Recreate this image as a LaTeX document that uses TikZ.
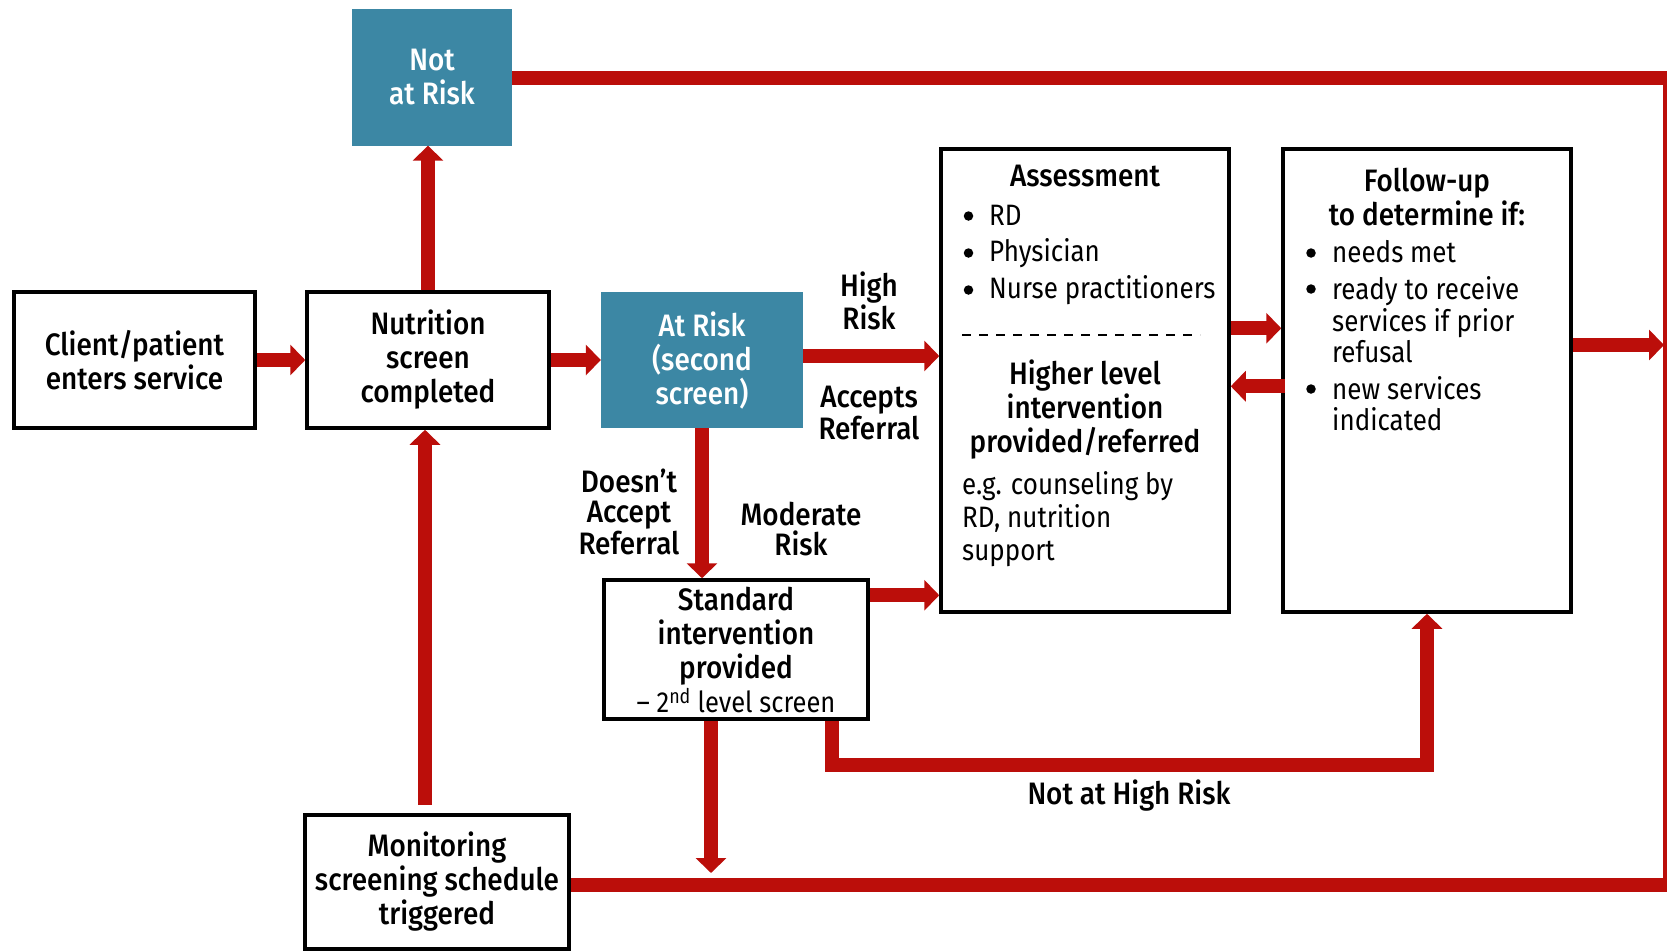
\documentclass[tikz,border=0pt]{standalone}
\usepackage{fontspec}
\setmainfont{Fira Sans}[FakeStretch=0.88, BoldFont={Fira Sans Medium}, BoldFeatures={FakeStretch=0.9}]
\usetikzlibrary{arrows.meta}
\definecolor{flowred}{RGB}{187,14,10}
\definecolor{riskteal}{RGB}{60,135,164}
\newcommand\headfont{\fontsize{31}{34}\selectfont\bfseries}
\newcommand\labelfont{\fontsize{31}{30}\selectfont\bfseries}
\newcommand\listfont{\fontsize{29.5}{31.5}\selectfont}
\begin{document}
\begin{tikzpicture}[x=1pt,y=-1pt,
  every node/.style={inner sep=0pt},
  box/.style={draw=black, line width=3.5pt, fill=white, align=center, font=\headfont},
  tealbox/.style={fill=riskteal, text=white, align=center, font=\headfont},
  lbl/.style={align=center, font=\labelfont},
  head/.style={align=center, font=\headfont},
  item/.style={align=left, font=\listfont},
  dot/.style={circle, fill=black, minimum size=9.5pt},
  flow/.style={draw=flowred, line width=14pt, line join=miter,
    -{Triangle[width=30pt,length=15pt]}},
  route/.style={draw=flowred, line width=14pt, line join=miter},
]
\useasboundingbox (0,0) rectangle (1667,951);
\clip (0,0) rectangle (1667,951);

% boxes of the screening flow
\node[tealbox, minimum width=160pt, minimum height=137pt] (notrisk) at (432,77) {Not\\at Risk};
\node[box, minimum width=241pt, minimum height=136pt] (client) at (134.5,360) {Client/patient\\enters service};
\node[box, minimum width=242pt, minimum height=136pt] (nutrition) at (428,360) {Nutrition\\screen\\completed};
\node[tealbox, minimum width=202pt, minimum height=136pt] (atrisk) at (702,360) {At Risk\\(second\\screen)};
\node[box, minimum width=264pt, minimum height=139pt] (standard) at (736,649.5)
  {Standard\\intervention\\provided\\{\mdseries\fontsize{29}{32}\selectfont – 2\textsuperscript{nd} level screen}};
\node[box, minimum width=264pt, minimum height=134pt] (monitor) at (437,882)
  {Monitoring\\screening schedule\\triggered};

% assessment box and its contents
\node[box, minimum width=288pt, minimum height=463pt] (assess) at (1085,380.5) {};
\node[head] (assessT) at (1085,176.5) {Assessment};
\node[dot] (aDot1) at (968.5,216) {};
\node[item, anchor=west] (aRD) at (989,215) {RD};
\node[dot] (aDot2) at (968.5,253) {};
\node[item, anchor=west] (aPhys) at (989,253) {Physician};
\node[dot] (aDot3) at (968.5,290) {};
\node[item, anchor=west] (aNurse) at (989,290) {Nurse practitioners};
\coordinate (dashL) at (962,335);
\coordinate (dashR) at (1200,335);
\draw[line width=2pt, dash pattern=on 9pt off 8pt] (dashL) -- (dashR);
\node[head] (higher) at (1085,410) {Higher level\\intervention\\provided/referred};
\node[item, anchor=west, font=\fontsize{29.5}{33}\selectfont] (example) at (962,519) {e.g. counseling by\\RD, nutrition\\support};

% follow-up box and its contents
\node[box, minimum width=288pt, minimum height=463pt] (followup) at (1427,380.5) {};
\node[head] (followT) at (1427,197) {Follow-up\\to determine if:};
\node[dot] (fDot1) at (1311,253) {};
\node[item, anchor=west] (fNeeds) at (1332,252) {needs met};
\node[dot] (fDot2) at (1311,289) {};
\node[item, anchor=west] (fReady) at (1332,320) {ready to receive\\services if prior\\refusal};
\node[dot] (fDot3) at (1311,389) {};
\node[item, anchor=west] (fNew) at (1332,403.5) {new services\\indicated};

% connector labels
\node[lbl] (highrisk) at (869,301) {High\\Risk};
\node[lbl] (accepts) at (869,413) {Accepts\\Referral};
\node[lbl] (noaccept) at (629,512) {Doesn’t\\Accept\\Referral};
\node[lbl] (moderate) at (801,529.5) {Moderate\\Risk};
\node[head] (nothigh) at (1129,796) {Not at High Risk};

% route points
\coordinate (edgeTop) at (1670,78);
\coordinate (edgeBot) at (1670,885);
\coordinate (fuTip) at (1664,345);
\coordinate (lowRoute) at (832,765);
\coordinate (stdDrop) at (711,873);
\coordinate (monTop) at (425,805);

% connectors
\draw[route] (notrisk.east |- edgeTop) -- (edgeTop) -- (edgeBot) -- (monitor.east |- edgeBot);
\draw[flow] (followup.east |- fuTip) -- (fuTip);
\draw[flow] (client.east) -- (nutrition.west);
\draw[flow] (nutrition.east) -- (atrisk.west);
\draw[flow] (nutrition.north) -- (nutrition.north |- notrisk.south);
\draw[flow] ([yshift=4pt]atrisk.east) -- ([yshift=4pt]atrisk.east -| assess.west);
\draw[flow] (atrisk.south) -- (atrisk.south |- standard.north);
\draw[flow] ([yshift=-17pt]standard.north east) -- ([yshift=-17pt]standard.north east -| assess.west);
\draw[flow] ([yshift=-181pt]assess.north east) -- ([yshift=-181pt]assess.north east -| followup.west);
\draw[flow] ([xshift=4pt,yshift=-239pt]followup.north west) -- ([yshift=-239pt]followup.north west -| assess.east);
\draw[flow] (lowRoute |- standard.south) -- (lowRoute) -- (lowRoute -| followup.south) -- (followup.south);
\draw[flow] (stdDrop |- standard.south) -- (stdDrop);
\draw[flow] (monTop) -- (monTop |- nutrition.south);
\end{tikzpicture}
\end{document}
